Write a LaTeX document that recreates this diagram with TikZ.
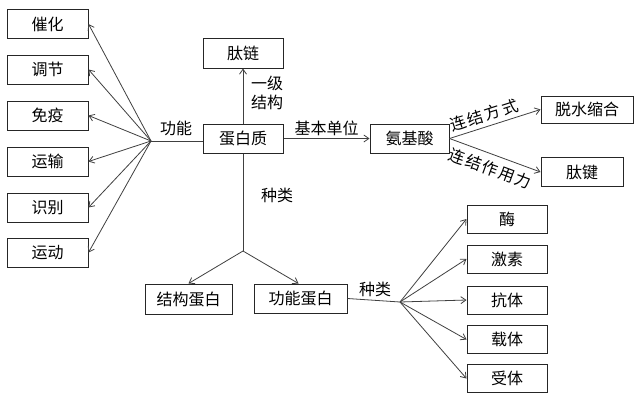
\documentclass[tikz,border=0pt]{standalone}
\usepackage{fontspec}
\setmainfont{Noto Sans CJK SC}
\usetikzlibrary{arrows.meta}
\begin{document}
\begin{tikzpicture}[x=1pt,y=-1pt,
  box/.style={draw=black!85, line width=1pt, inner sep=0pt, minimum height=29pt, font=\fontsize{16}{16}\selectfont},
  arr/.style={draw=black!75, line width=0.8pt, -{Straight Barb[length=5pt,width=7pt]}},
  ln/.style={draw=black!75, line width=0.8pt},
  lbl/.style={font=\fontsize{16}{16}\selectfont, inner sep=1pt}]
\useasboundingbox[fill=white] (0,0) rectangle (640,402);
% left column
\node[box, minimum width=81pt] (c1) at (47.5,24) {催化};
\node[box, minimum width=81pt] (c2) at (47.5,69.5) {调节};
\node[box, minimum width=81pt] (c3) at (47.5,115.5) {免疫};
\node[box, minimum width=81pt] (c4) at (47.5,161.5) {运输};
\node[box, minimum width=81pt] (c5) at (47.5,207.5) {识别};
\node[box, minimum width=81pt] (c6) at (47.5,252.5) {运动};
% centre
\node[box, minimum width=80pt] (dbz) at (243,138.5) {蛋白质};
\node[box, minimum width=80pt, minimum height=30pt] (tl) at (243,53) {肽链};
\node[box, minimum width=79pt] (aa) at (409.5,138.5) {氨基酸};
\node[box, minimum width=92pt, minimum height=27pt] (ts) at (587,109.5) {脱水缩合};
\node[box, minimum width=82pt] (tj) at (582,172) {肽键};
\node[box, minimum width=87pt, minimum height=30pt] (jg) at (188.5,299) {结构蛋白};
\node[box, minimum width=93pt] (gn) at (300.5,298.5) {功能蛋白};
% right column
\node[box, minimum width=80pt, minimum height=28pt] (m1) at (507,219) {酶};
\node[box, minimum width=80pt, minimum height=28pt] (m2) at (507,259) {激素};
\node[box, minimum width=80pt, minimum height=28pt] (m3) at (507,300) {抗体};
\node[box, minimum width=80pt, minimum height=28pt] (m4) at (507,339.5) {载体};
\node[box, minimum width=80pt, minimum height=28pt] (m5) at (507,378.5) {受体};
% junctions
\coordinate (f1) at (151,141);
\coordinate (b1) at (243,251);
\coordinate (f2) at (400,302);
% function fan
\draw[ln] (f1) -- (f1 -| dbz.west);
\node[lbl] (lgn) at (176,128) {功能};
\foreach \i in {1,...,6} \draw[arr] (f1) -- (c\i.east);
% up
\draw[arr] (dbz.north) -- (tl.south);
\node[lbl] (l1) at (267,83) {一级};
\node[lbl] (l2) at (267,102) {结构};
% right
\draw[arr] (dbz.east) -- node[lbl, above=1pt] (ljb) {基本单位} (aa.west);
\draw[arr] (aa.east) -- node[lbl, sloped, above=3pt, pos=0.42] (llf) {连\hspace{2pt}结\hspace{2pt}方\hspace{2pt}式} (ts.west);
\draw[arr] (aa.east) -- node[lbl, sloped, below=5pt, pos=0.5] (llz) {连\hspace{1.5pt}结\hspace{1.5pt}作\hspace{1.5pt}用\hspace{1.5pt}力} (tj.west);
% down
\draw[ln] (dbz.south) -- (b1);
\node[lbl] (lzl1) at (277,195) {种类};
\draw[arr] (b1) -- (jg.north);
\draw[arr] (b1) -- ([xshift=-2pt]gn.north);
\draw[ln] (gn.east) -- (f2);
\node[lbl] (lzl2) at (375,289) {种类};
\foreach \i in {1,...,5} \draw[arr] (f2) -- (m\i.west);
\end{tikzpicture}
\end{document}
